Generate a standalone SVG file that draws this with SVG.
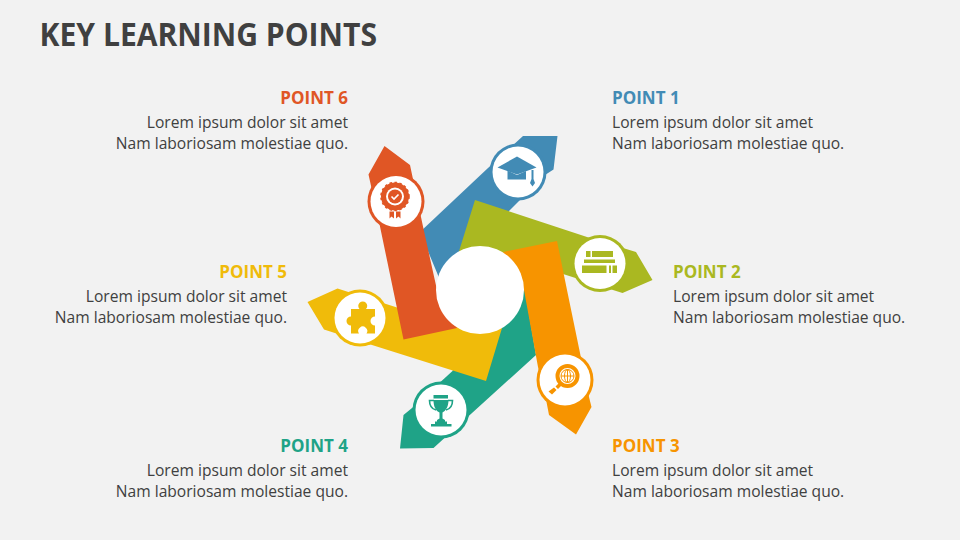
<svg xmlns="http://www.w3.org/2000/svg" width="960" height="540" viewBox="0 0 960 540">
<style>
text{font-family:"Open Sans","Noto Sans","Liberation Sans",sans-serif}
.t{font-size:32.500px;font-weight:700;fill:#404040}
.h{font-size:17px;font-weight:700}
.b{font-size:15.600px;fill:#404040}
.e{text-anchor:end}
.w{fill:#fff}
.blue{fill:#428bb5}.olive{fill:#aab821}.orange{fill:#f79400}.teal{fill:#1fa387}.yellow{fill:#f0bb0a}.red{fill:#e05625}
.lo{fill:none;stroke:#f79400}.lt{fill:none;stroke:#1fa387}
</style>
<rect width="960" height="540" fill="#f2f2f2"/>
<text class="t" x="39.500" y="46" textLength="337.500" lengthAdjust="spacingAndGlyphs">KEY LEARNING POINTS</text>
<g id="connectors">
<path class="blue" d="M523 136H557.500L553.500 169.500L545 175L440 280L420 232L488 168Z"/>
<path class="olive" d="M475 200L587 237L636 252L652.500 280L622.500 293L613 290L563 274L450 280Z"/>
<path class="teal" d="M400 448.500L433.500 448L536 355L525 290L480 300L452.500 371L412 408L403.500 415Z"/>
<path class="yellow" d="M307.500 302L337.500 288.500L350 292.500L430 318L502 328L486 381L372 345L324 329.500Z"/>
<path class="red" d="M384.500 146L410 165L423 226.500L437 290L457 328L403.500 339.500L380 226.500L368.500 174.500Z"/>
<path class="orange" d="M557 241L567 290L580 353L589 397L591.500 407L576 434.500L549 415L546.500 402L538 367L524 290L503 252Z"/>
<circle class="w" cx="480" cy="290" r="44"/>
</g>
<g id="point1">
<circle class="blue" cx="518" cy="172" r="28.500"/><circle class="w" cx="518" cy="172" r="25.500"/>
<path class="blue" d="M517 156.500L536.500 167.500L517 174.500L497.500 167.500Z"/>
<path class="blue" d="M507.500 170.500L517 175L526 171V179.500H507.500Z"/>
<path class="blue" d="M531.500 170H533.500V179L535 183L532.500 186.500L530 183L531.500 179Z"/>
<text class="h" x="612" y="104" style="fill:#428bb5">POINT 1</text>
<text class="b" x="612" y="128">Lorem ipsum dolor sit amet</text>
<text class="b" x="612" y="149">Nam laboriosam molestiae quo.</text>
</g>
<g id="point2">
<circle class="olive" cx="600" cy="263.500" r="28.500"/><circle class="w" cx="600" cy="263.500" r="25.500"/>
<path class="olive" d="M586 251H590.500V257H586ZM592 251H613V257H592ZM584 259.500H615V263H584ZM582 265.500H606.500V273H582ZM609 265.500H611V273H609ZM612.500 265.500H617V273H612.500Z"/>
<text class="h" x="673" y="278" style="fill:#aab821">POINT 2</text>
<text class="b" x="673" y="302">Lorem ipsum dolor sit amet</text>
<text class="b" x="673" y="323">Nam laboriosam molestiae quo.</text>
</g>
<g id="point3">
<circle class="orange" cx="565" cy="380" r="28.500"/><circle class="w" cx="565" cy="380" r="25.500"/>
<circle class="lo" cx="567.500" cy="376" r="10" stroke-width="4"/>
<circle class="lo" cx="567.500" cy="376" r="6.500" stroke-width="1"/>
<path class="lo" stroke-width="1" d="M561 376H574M567.500 369.500V382.500"/>
<ellipse class="lo" cx="567.500" cy="376" rx="3" ry="6.500" stroke-width="1"/>
<path class="orange" d="M559.500 382.500L562 385L558 389L555.500 386.500ZM554 387.500L556.500 390L552 394.500L548.500 391.500Z"/>
<text class="h" x="612" y="452" style="fill:#f79400">POINT 3</text>
<text class="b" x="612" y="476">Lorem ipsum dolor sit amet</text>
<text class="b" x="612" y="497">Nam laboriosam molestiae quo.</text>
</g>
<g id="point4">
<circle class="teal" cx="441" cy="410" r="28.500"/><circle class="w" cx="441" cy="410" r="25.500"/>
<path class="teal" d="M433.500 395H448V398.500H433.500ZM433.500 400H448.500C448.500 407 445.500 411 442.500 412.500V418.500L445 420V421.500H447V424H451.500V426.500H431V424H435V421.500H437V420L439.500 418.500V412.500C436 411 433.500 407 433.500 400Z"/>
<path class="lt" stroke-width="1.600" d="M434 400.500H429.500C429.500 406 432 409 436 410M448 400.500H452.500C452.500 406 450 409 446 410"/>
<text class="h e" x="348" y="452" style="fill:#1fa387">POINT 4</text>
<text class="b e" x="348" y="476">Lorem ipsum dolor sit amet</text>
<text class="b e" x="348" y="497">Nam laboriosam molestiae quo.</text>
</g>
<g id="point5">
<circle class="yellow" cx="360" cy="318" r="28.500"/><circle class="w" cx="360" cy="318" r="25.500"/>
<path class="yellow" d="M351 309H359.500A4.500 4.500 0 1 1 366 309H375V316.500A4.500 4.500 0 1 0 375 325.500V333.500H366.500A4.500 4.500 0 1 0 359 333.500H351V325.500A4.500 4.500 0 1 1 351 316.500Z"/>
<text class="h e" x="287" y="278" style="fill:#f0bb0a">POINT 5</text>
<text class="b e" x="287" y="302">Lorem ipsum dolor sit amet</text>
<text class="b e" x="287" y="323">Nam laboriosam molestiae quo.</text>
</g>
<g id="point6">
<circle class="red" cx="396" cy="201.500" r="28.500"/><circle class="w" cx="396" cy="201.500" r="25.500"/>
<circle class="red" cx="395" cy="196.500" r="14" stroke="#e05625" stroke-width="1.600" stroke-dasharray="2.500 2.500"/><circle class="w" cx="395" cy="196.500" r="9"/><circle class="red" cx="395" cy="196.500" r="7"/>
<path fill="none" stroke="#fff" stroke-width="1.600" d="M391.500 196.500L394 199L398.500 194.500"/>
<path class="red" d="M389.500 211.500H394V218.500L391.500 216.500L389.500 218.500ZM396 211.500H400.500V218.500L398.500 216.500L396 218.500Z"/>
<text class="h e" x="348" y="104" style="fill:#e05625">POINT 6</text>
<text class="b e" x="348" y="128">Lorem ipsum dolor sit amet</text>
<text class="b e" x="348" y="149">Nam laboriosam molestiae quo.</text>
</g>
</svg>
